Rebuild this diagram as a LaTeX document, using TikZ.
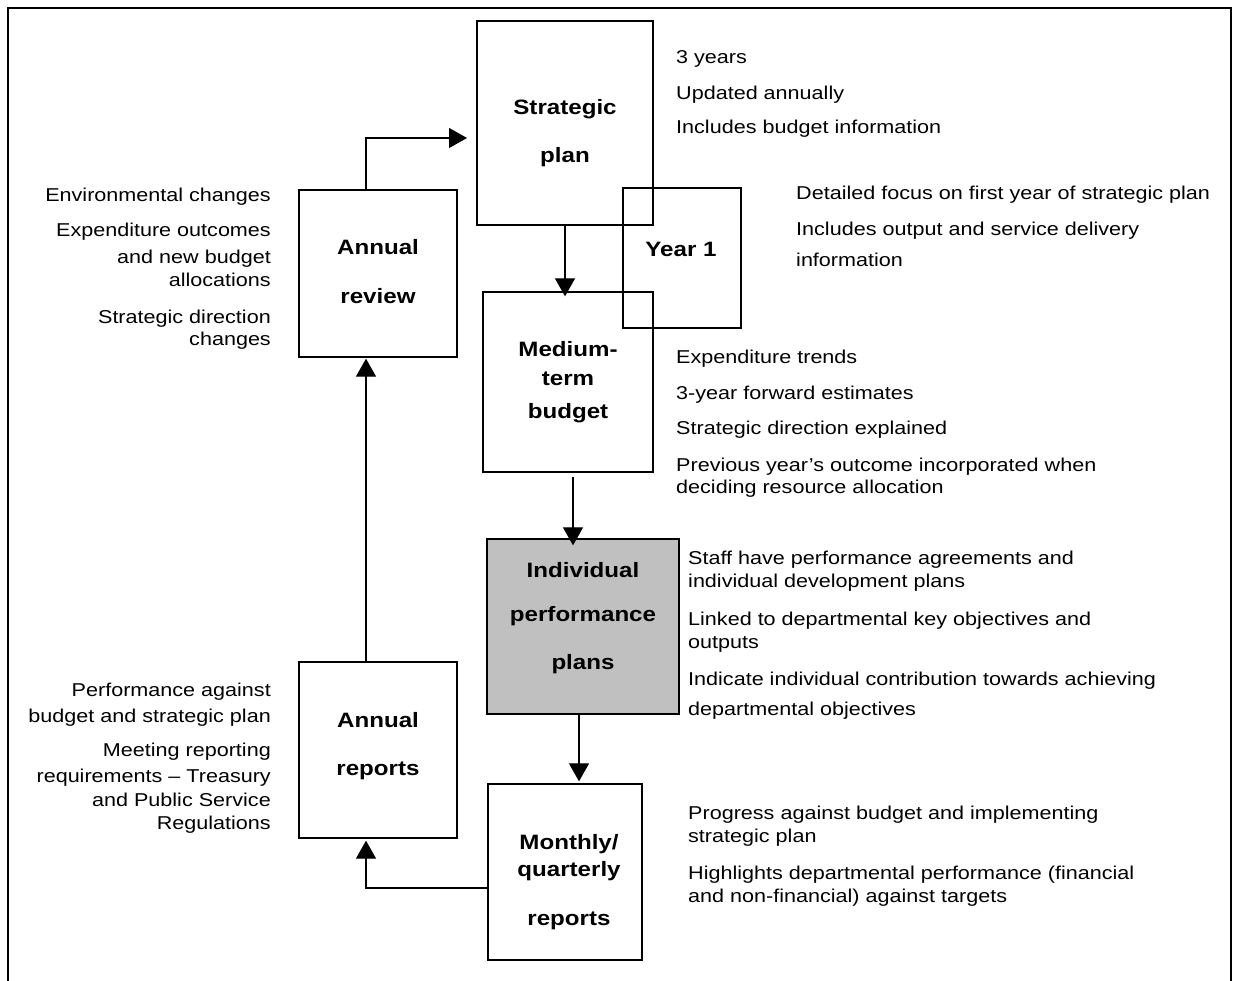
\documentclass[tikz,border=0pt]{standalone}
\usepackage{fontspec}
\setmainfont{Liberation Sans}[FakeStretch=1.16]
\usetikzlibrary{arrows.meta}
\begin{document}
\begin{tikzpicture}[x=1pt,y=-1pt,
  box/.style={draw, line width=1.3pt, inner sep=0pt},
  lbl/.style={font=\fontsize{20.8}{24}\selectfont\bfseries, text height=15pt, text depth=0pt, inner sep=0pt},
  note/.style={font=\fontsize{18.6}{22}\selectfont, text height=13.3pt, text depth=0pt, inner sep=0pt, anchor=west},
  lnote/.style={note, anchor=east},
  arr/.style={line width=1.2pt, -{Triangle[length=18pt,width=20pt]}}]
\useasboundingbox (0,0) rectangle (1238,981);
\draw[line width=1.8pt] (8,981) -- (8,8) -- (1231,8) -- (1231,981);

% boxes
\node[box, minimum width=176pt, minimum height=204pt] (sp) at (565,123) {};
\node[box, minimum width=118pt, minimum height=140pt] (y1) at (682,258) {};
\node[box, minimum width=170pt, minimum height=180pt] (mt) at (568,382) {};
\node[box, minimum width=158pt, minimum height=167pt] (ar) at (378,273.5) {};
\node[box, minimum width=158pt, minimum height=176pt] (arp) at (378,750) {};
\node[box, fill={rgb,255:red,192;green,192;blue,192}, minimum width=192pt, minimum height=175pt] (ip) at (583,626.5) {};
\node[box, minimum width=154pt, minimum height=176pt] (mq) at (565,872) {};

% box labels
\node[lbl] (sp1) at (565,107) {Strategic};
\node[lbl] (sp2) at (565,155) {plan};
\node[lbl] (y1l) at (681,249) {Year 1};
\node[lbl] (ar1) at (378,247) {Annual};
\node[lbl] (ar2) at (378,296) {review};
\node[lbl] (mt1) at (568,349) {Medium-};
\node[lbl] (mt2) at (568,378) {term};
\node[lbl] (mt3) at (568,411) {budget};
\node[lbl] (ip1) at (583,570) {Individual};
\node[lbl] (ip2) at (583,614) {performance};
\node[lbl] (ip3) at (583,662) {plans};
\node[lbl] (arp1) at (378,720) {Annual};
\node[lbl] (arp2) at (378,768) {reports};
\node[lbl] (mq1) at (569,842) {Monthly/};
\node[lbl] (mq2) at (569,869) {quarterly};
\node[lbl] (mq3) at (569,918) {reports};

% connectors
\coordinate (spin) at (467,138);
\draw[arr] (ar.north -| 366,0) |- (spin);
\draw[arr] (sp.south) -- ([yshift=-5pt]mt.north -| sp.south);
\draw[arr] ([xshift=5pt,yshift=-4pt]mt.south) -- ([xshift=-10pt,yshift=-7pt]ip.north);
\draw[arr] ([xshift=-4pt]ip.south) -- ([xshift=14pt,yshift=2pt]mq.north);
\draw[arr] (mq.west |- 0,888) -| ([xshift=-12pt,yshift=-2pt]arp.south);
\draw[arr] ([xshift=-12pt]arp.north) -- ([xshift=-12pt,yshift=-1pt]ar.south);

% notes: strategic plan
\node[note] (n1) at (676,57) {3 years};
\node[note] (n2) at (676,93) {Updated annually};
\node[note] (n3) at (676,127) {Includes budget information};
% year 1
\node[note] (n4) at (796,193) {Detailed focus on first year of strategic plan};
\node[note] (n5) at (796,229) {Includes output and service delivery};
\node[note] (n6) at (796,260) {information};
% medium-term budget
\node[note] (n7) at (676,357) {Expenditure trends};
\node[note] (n8) at (676,393) {3-year forward estimates};
\node[note] (n9) at (676,428) {Strategic direction explained};
\node[note] (n10) at (676,465) {Previous year’s outcome incorporated when};
\node[note] (n11) at (676,487) {deciding resource allocation};
% individual performance plans
\node[note] (n12) at (688,558) {Staff have performance agreements and};
\node[note] (n13) at (688,581) {individual development plans};
\node[note] (n14) at (688,619) {Linked to departmental key objectives and};
\node[note] (n15) at (688,642) {outputs};
\node[note] (n16) at (688,679) {Indicate individual contribution towards achieving};
\node[note] (n17) at (688,709) {departmental objectives};
% monthly
\node[note] (n18) at (688,813) {Progress against budget and implementing};
\node[note] (n19) at (688,836) {strategic plan};
\node[note] (n20) at (688,873) {Highlights departmental performance (financial};
\node[note] (n21) at (688,896) {and non-financial) against targets};
% left: annual review
\node[lnote] (l1) at (271,195) {Environmental changes};
\node[lnote] (l2) at (271,230) {Expenditure outcomes};
\node[lnote] (l3) at (271,257) {and new budget};
\node[lnote] (l4) at (271,280) {allocations};
\node[lnote] (l5) at (271,317) {Strategic direction};
\node[lnote] (l6) at (271,339) {changes};
% left: annual reports
\node[lnote] (l7) at (271,690) {Performance against};
\node[lnote] (l8) at (271,716) {budget and strategic plan};
\node[lnote] (l9) at (271,750) {Meeting reporting};
\node[lnote] (l10) at (271,776) {requirements – Treasury};
\node[lnote] (l11) at (271,800) {and Public Service};
\node[lnote] (l12) at (271,823) {Regulations};
\end{tikzpicture}
\end{document}
